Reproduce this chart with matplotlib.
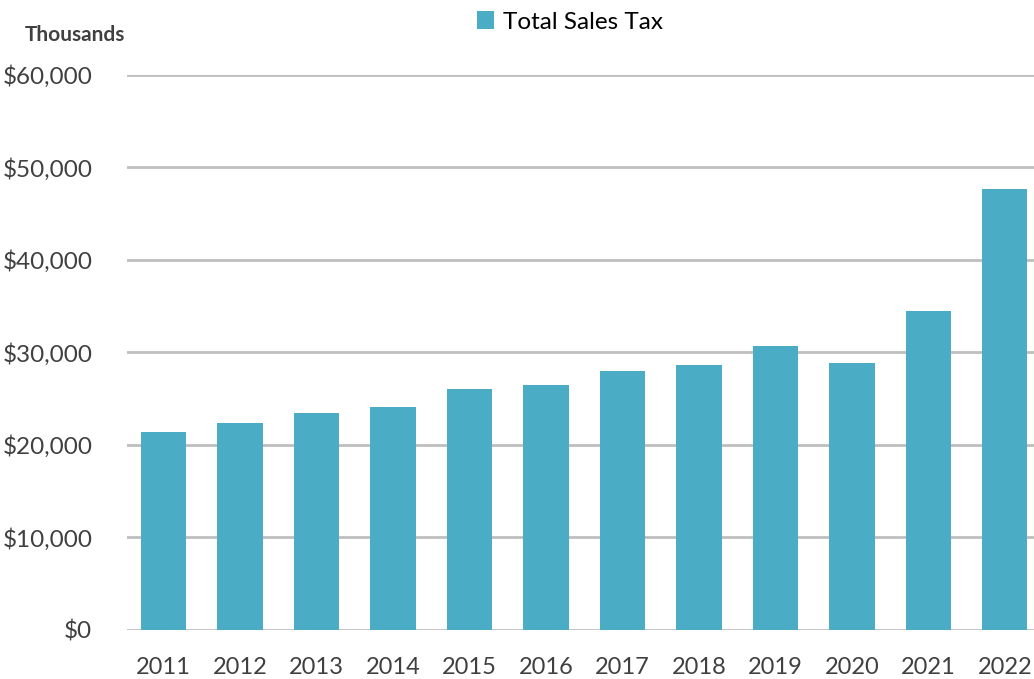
import matplotlib
matplotlib.use("Agg")
import matplotlib.pyplot as plt
from matplotlib.ticker import FuncFormatter, MultipleLocator
from matplotlib.patches import Patch

years = ["2011", "2012", "2013", "2014", "2015", "2016", "2017", "2018", "2019", "2020", "2021", "2022"]
total_sales_tax = [21340, 22350, 23430, 24050, 26000, 26460, 28010, 28625, 30650, 28840, 34470, 47670]

plt.rcParams['font.family'] = ['Lato', 'DejaVu Sans']
text_color = "#404040"
bar_color = "#4BACC6"
grid_color = "#BFBFBF"

fig = plt.figure(figsize=(10.34, 6.79), dpi=100)
ax = fig.add_axes([127/1034, (679-629.5)/679, 1 - 127/1034, (629.5-75)/679])

x = list(range(len(years)))
ax.bar(x, total_sales_tax, width=0.59, color=bar_color, zorder=3)

ax.set_ylim(0, 60000)
ax.set_xlim(-0.477, 11.38)
ax.yaxis.set_major_locator(MultipleLocator(10000))
ax.yaxis.set_major_formatter(FuncFormatter(lambda v, p: f"${v:,.0f}"))
ax.set_xticks(x)
ax.set_xticklabels(years)
ax.grid(axis='y', color=grid_color, linewidth=2, zorder=0)
for s in ax.spines.values():
    s.set_visible(False)
ax.tick_params(axis='both', length=0, colors=text_color)
ax.tick_params(axis='y', pad=25, labelsize=17.5)
ax.tick_params(axis='x', pad=20, labelsize=17)

fig.text(25/1034, 1 - 35/679, "Thousands", fontsize=15, fontweight='bold', color=text_color, va='center', ha='left')

handles = [Patch(facecolor=bar_color, edgecolor='none', label="Total Sales Tax")]
leg = fig.legend(handles=handles, loc='center', bbox_to_anchor=(570/1034, 1 - 22/679), frameon=False,
                 fontsize=17.5, handlelength=0.7, handleheight=0.7, handletextpad=0.4)
for t in leg.get_texts():
    t.set_color("black")

fig.savefig("out.png", dpi=100)
